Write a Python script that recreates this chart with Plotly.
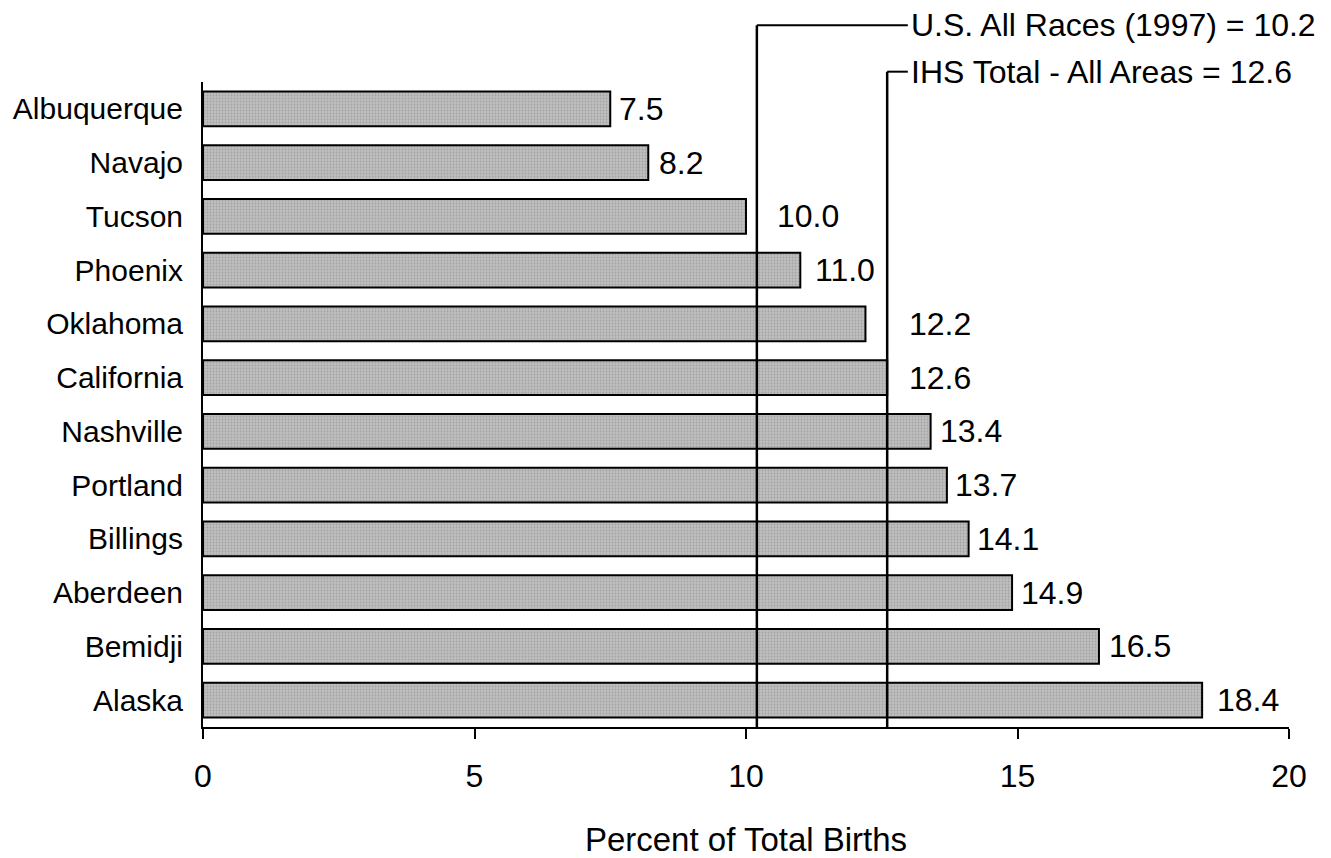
import plotly.graph_objects as go

areas = ["Albuquerque", "Navajo", "Tucson", "Phoenix", "Oklahoma", "California",
         "Nashville", "Portland", "Billings", "Aberdeen", "Bemidji", "Alaska"]
values = [7.5, 8.2, 10.0, 11.0, 12.2, 12.6, 13.4, 13.7, 14.1, 14.9, 16.5, 18.4]
value_labels = ["7.5", "8.2", "10.0", "11.0", "12.2", "12.6", "13.4", "13.7", "14.1", "14.9", "16.5", "18.4"]
label_shift_px = [7, 9, 29, 13, 42, 20, 7, 6, 6, 7, 8, 13]

ref_values = [10.2, 12.6]
ref_labels = ["U.S. All Races (1997) = 10.2", "IHS Total - All Areas = 12.6"]
ref_top_paper = [1.088, 1.016]
connector_end_x = 12.98

x_ticks = [0, 5, 10, 15, 20]
x_title = "Percent of Total Births"

FONT = "Liberation Sans, Arial, sans-serif"
FS = 32
FS_CAT = 30

fig = go.Figure()
fig.add_trace(go.Bar(
    x=values, y=areas, orientation="h", width=0.65,
    marker=dict(color="#bbbbbb",
                line=dict(color="black", width=2),
                pattern=dict(shape=".", fgcolor="#858585", bgcolor="#bfbfbf", size=3, solidity=0.3)),
    hoverinfo="x+y", showlegend=False,
))

for a, v, t, s in zip(areas, values, value_labels, label_shift_px):
    fig.add_annotation(x=v, y=a, text=t, showarrow=False, xanchor="left", yanchor="middle",
                       xshift=s, font=dict(family=FONT, size=FS, color="black"))

for rv, rl, top in zip(ref_values, ref_labels, ref_top_paper):
    fig.add_shape(type="line", xref="x", yref="paper", x0=rv, x1=rv, y0=0, y1=top,
                  line=dict(color="black", width=2.5))
    fig.add_shape(type="line", xref="x", yref="paper", x0=rv, x1=connector_end_x, y0=top, y1=top,
                  line=dict(color="black", width=2))
    fig.add_annotation(x=connector_end_x, y=top, xref="x", yref="paper", text=rl, showarrow=False,
                       xanchor="left", yanchor="middle", xshift=1,
                       font=dict(family=FONT, size=FS, color="black"))

fig.update_layout(
    width=1331, height=858,
    margin=dict(l=203, r=42, t=82, b=131),
    paper_bgcolor="white", plot_bgcolor="white",
    font=dict(family=FONT, size=FS, color="black"),
)
fig.update_xaxes(range=[0, 20], tickvals=x_ticks, ticktext=[str(t) for t in x_ticks],
                 showgrid=False, zeroline=False, showline=True, linecolor="black", linewidth=2,
                 ticks="outside", ticklen=10, tickwidth=2, tickcolor="black",
                 tickfont=dict(family=FONT, size=FS), ticklabelstandoff=10, automargin=False,
                 title=dict(text=x_title, font=dict(family=FONT, size=33), standoff=46))
fig.update_yaxes(categoryorder="array", categoryarray=areas, autorange="reversed",
                 showgrid=False, zeroline=False, showline=True, linecolor="black", linewidth=2,
                 ticks="", ticklabelstandoff=12, automargin=False,
                 tickfont=dict(family=FONT, size=FS_CAT))

fig.write_html("out.html", config={"displayModeBar": False},
               post_script="document.body.style.margin='0';document.body.style.overflow='hidden';")
